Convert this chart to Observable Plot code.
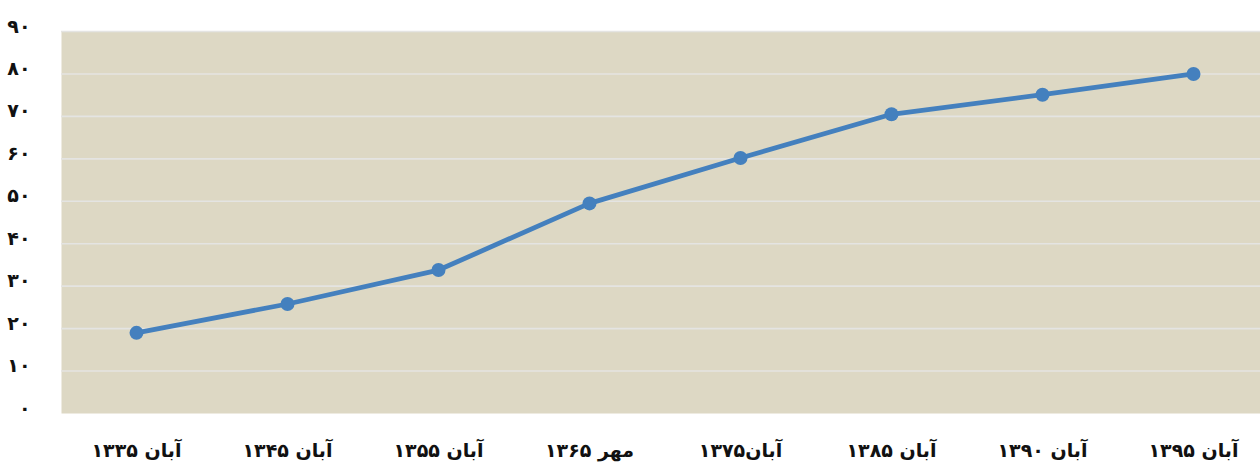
<!DOCTYPE html>
<html>
<head>
<meta charset="utf-8">
<script src="https://cdn.jsdelivr.net/npm/d3@7"></script>
<script src="https://cdn.jsdelivr.net/npm/@observablehq/plot@0.6"></script>
<style>
  html, body { margin: 0; padding: 0; background: #ffffff; }
  #chart svg { display: block; }
</style>
</head>
<body>
<div id="chart"></div>
<script>
// Categories (x axis labels, left to right)
const categories = ["آبان ۱۳۳۵", "آبان ۱۳۴۵", "آبان ۱۳۵۵", "مهر ۱۳۶۵", "آبان۱۳۷۵", "آبان ۱۳۸۵", "آبان ۱۳۹۰", "آبان ۱۳۹۵"];
// Series values
const values = [19, 25.8, 33.8, 49.5, 60.2, 70.5, 75.1, 80];
// Y ticks and their Persian labels
const yTicks = [0, 10, 20, 30, 40, 50, 60, 70, 80, 90];
const yTickLabels = ["۰", "۱۰", "۲۰", "۳۰", "۴۰", "۵۰", "۶۰", "۷۰", "۸۰", "۹۰"];
const gridTicks = [10, 20, 30, 40, 50, 60, 70, 80, 90];

const data = categories.map((c, i) => ({cat: c, value: values[i]}));

const W = 1260, H = 467;
const mL = 61, mT = 31, mB = 54;

const chart = Plot.plot({
  width: W,
  height: H,
  marginLeft: mL,
  marginRight: 0,
  marginTop: mT,
  marginBottom: mB,
  style: {fontFamily: "'DejaVu Sans', sans-serif", fontWeight: "bold", background: "#ffffff", color: "#111"},
  x: {type: "point", domain: categories, range: [mL - 1, mL - 1 + 8 * 151], padding: 0.5},
  y: {domain: [0, 90], range: [H - mB, mT]},
  marks: [
    Plot.frame({fill: "#ddd8c4", stroke: null}),
    Plot.gridY(gridTicks, {stroke: "#e4e4e2", strokeOpacity: 1, strokeWidth: 1.6}),
    Plot.axisY({ticks: yTicks, tickFormat: (d) => yTickLabels[yTicks.indexOf(d)], tickSize: 0, tickPadding: 31, dy: -5, fontSize: 19, fontWeight: "bold", label: null}),
    Plot.axisX({tickSize: 0, tickPadding: 30, fontSize: 19, fontWeight: "bold", label: null}),
    Plot.line(data, {x: "cat", y: "value", stroke: "#4480be", strokeWidth: 4.8}),
    Plot.dot(data, {x: "cat", y: "value", r: 7, fill: "#4480be", stroke: null})
  ]
});

document.getElementById("chart").appendChild(chart);
</script>
</body>
</html>
